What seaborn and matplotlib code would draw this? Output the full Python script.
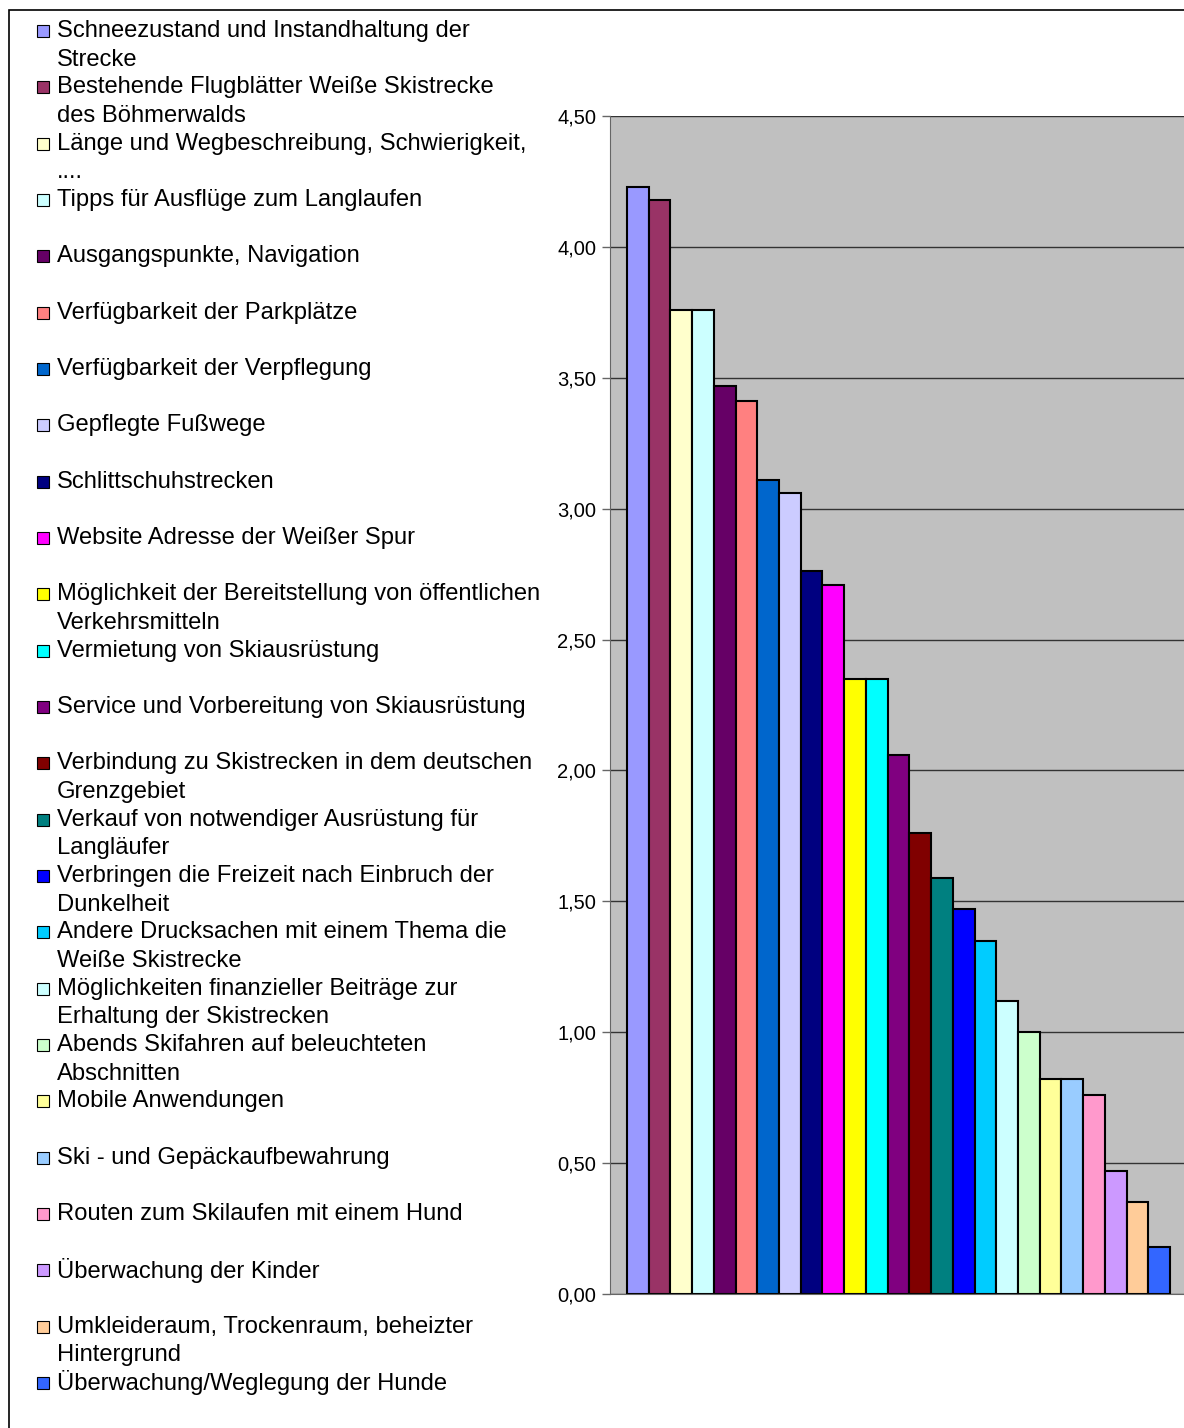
import numpy as np
import matplotlib
matplotlib.use("Agg")
import matplotlib.pyplot as plt
import pandas as pd
import seaborn as sns
from matplotlib.patches import Rectangle

# data
labels = [
    "Schneezustand und Instandhaltung der\nStrecke",
    "Bestehende Flugblätter Weiße Skistrecke\ndes Böhmerwalds",
    "Länge und Wegbeschreibung, Schwierigkeit,\n....",
    "Tipps für Ausflüge zum Langlaufen",
    "Ausgangspunkte, Navigation",
    "Verfügbarkeit der Parkplätze",
    "Verfügbarkeit der Verpflegung",
    "Gepflegte Fußwege",
    "Schlittschuhstrecken",
    "Website Adresse der Weißer Spur",
    "Möglichkeit der Bereitstellung von öffentlichen\nVerkehrsmitteln",
    "Vermietung von Skiausrüstung",
    "Service und Vorbereitung von Skiausrüstung",
    "Verbindung zu Skistrecken in dem deutschen\nGrenzgebiet",
    "Verkauf von notwendiger Ausrüstung für\nLangläufer",
    "Verbringen die Freizeit nach Einbruch der\nDunkelheit",
    "Andere Drucksachen mit einem Thema die\nWeiße Skistrecke",
    "Möglichkeiten finanzieller Beiträge zur\nErhaltung der Skistrecken",
    "Abends Skifahren auf beleuchteten\nAbschnitten",
    "Mobile Anwendungen",
    "Ski - und Gepäckaufbewahrung",
    "Routen zum Skilaufen mit einem Hund",
    "Überwachung der Kinder",
    "Umkleideraum, Trockenraum, beheizter\nHintergrund",
    "Überwachung/Weglegung der Hunde",
]
values = [4.23, 4.18, 3.76, 3.76, 3.47, 3.41, 3.11, 3.06, 2.76, 2.71,
          2.35, 2.35, 2.06, 1.76, 1.59, 1.47, 1.35, 1.12, 1.00, 0.82,
          0.82, 0.76, 0.47, 0.35, 0.18]
colors = ["#9999FF", "#993366", "#FFFFCC", "#CCFFFF", "#660066", "#FF8080",
          "#0066CC", "#CCCCFF", "#000080", "#FF00FF", "#FFFF00", "#00FFFF",
          "#800080", "#800000", "#008080", "#0000FF", "#00CCFF", "#CCFFFF",
          "#CCFFCC", "#FFFF99", "#99CCFF", "#FF99CC", "#CC99FF", "#FFCC99",
          "#3366FF"]
yticks = [0, 0.5, 1.0, 1.5, 2.0, 2.5, 3.0, 3.5, 4.0, 4.5]

df = pd.DataFrame({"item": labels, "value": values})

sns.set_style("white")
plt.rcParams["font.family"] = ["Liberation Sans", "DejaVu Sans"]

W, H = 1184, 1428
fig = plt.figure(figsize=(W / 100, H / 100), dpi=100)

# plot area (extends slightly past the right edge like the original)
ax = fig.add_axes([610 / W, (H - 1294) / H, 577 / W, (1294 - 116) / H])
ax.set_facecolor("#C0C0C0")
sns.barplot(data=df, x="item", y="value", hue="item", palette=colors,
            saturation=1, width=1.0, edgecolor="black", linewidth=1.5,
            legend=False, ax=ax)
ax.set_xlim(-1.28, 25.28)
ax.set_ylim(0, 4.5)
ax.set_yticks(yticks)
ax.set_yticklabels([f"{v:.2f}".replace(".", ",") for v in yticks],
                   fontsize=14.5, color="black")
ax.set_xticks([])
ax.set_xlabel("")
ax.set_ylabel("")
ax.yaxis.grid(True, color="#333333", linewidth=1.0)
ax.set_axisbelow(True)
ax.tick_params(axis="y", left=True, length=6, width=1, color="#666666", pad=4)
for side in ["top", "right"]:
    ax.spines[side].set_visible(False)
ax.spines["left"].set_color("#666666")
ax.spines["bottom"].set_color("#666666")

# outer chart border
fig.patches.append(Rectangle((9 / W, -0.05), 1.1, (H - 10) / H + 0.05,
                             transform=fig.transFigure, fill=False,
                             edgecolor="black", linewidth=1.2))

# legend in Excel style: square marker and text, two lines per entry
y0, step, line = 31, 56.33, 28.7
for i, (lab, col) in enumerate(zip(labels, colors)):
    yc = y0 + i * step
    fig.patches.append(Rectangle((37 / W, (H - yc - 6) / H), 12 / W, 12 / H,
                                 transform=fig.transFigure, facecolor=col,
                                 edgecolor="black", linewidth=0.8))
    for j, part in enumerate(lab.split("\n")):
        fig.text(57 / W, (H - yc - j * line) / H, part, fontsize=17.1,
                 color="black", va="center", ha="left")

fig.savefig("out.png", dpi=100)
